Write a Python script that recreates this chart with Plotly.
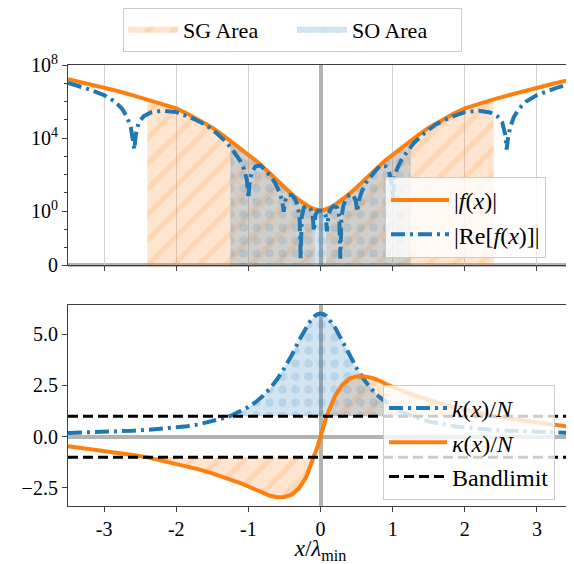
import numpy as np
import plotly.graph_objects as go

# ---------------- data ----------------
X = [-3.5, -3.25, -3.0, -2.8, -2.6, -2.4, -2.2, -2.0, -1.85, -1.7, -1.5, -1.35, -1.25, -1.1, -1.0,
     -0.9, -0.8, -0.7, -0.6, -0.5, -0.4, -0.3, -0.2, -0.15, -0.08, -0.04, 0.0,
     0.04, 0.08, 0.15, 0.2, 0.3, 0.4, 0.5, 0.6, 0.7, 0.8, 0.9, 1.0, 1.1, 1.25, 1.35,
     1.5, 1.7, 1.85, 2.0, 2.2, 2.4, 2.6, 2.8, 3.0, 3.25, 3.5]

k_over_N = [0.18, 0.2, 0.23, 0.26, 0.29, 0.33, 0.38, 0.45, 0.51, 0.59, 0.74, 0.9, 1.01, 1.24, 1.44,
            1.68, 1.98, 2.35, 2.8, 3.35, 3.96, 4.68, 5.33, 5.6, 5.88, 5.97, 6.0,
            5.97, 5.88, 5.6, 5.33, 4.68, 3.96, 3.35, 2.8, 2.35, 1.98, 1.68, 1.44, 1.24, 1.01, 0.9,
            0.74, 0.59, 0.51, 0.45, 0.38, 0.33, 0.29, 0.26, 0.23, 0.2, 0.18]

kappa_over_N = [-0.47, -0.58, -0.68, -0.78, -0.89, -1.01, -1.16, -1.32, -1.45, -1.58, -1.79, -1.96, -2.08, -2.28, -2.43,
                -2.58, -2.76, -2.88, -2.95, -2.94, -2.83, -2.52, -1.98, -1.55, -0.95, -0.48, 0.0,
                0.48, 0.95, 1.55, 1.98, 2.52, 2.83, 2.94, 2.95, 2.88, 2.76, 2.58, 2.43, 2.28, 2.08, 1.96,
                1.79, 1.58, 1.45, 1.32, 1.16, 1.01, 0.89, 0.78, 0.68, 0.58, 0.47]

# log10 |f(x)|
log10_abs_f = [7.22, 7.0, 6.77, 6.56, 6.34, 6.12, 5.9, 5.63, 5.34, 5.02, 4.57, 4.15, 3.85, 3.4, 3.08,
               2.78, 2.43, 2.05, 1.68, 1.3, 0.94, 0.62, 0.35, 0.22, 0.1, 0.05, 0.03,
               0.05, 0.1, 0.22, 0.35, 0.62, 0.94, 1.3, 1.68, 2.05, 2.43, 2.78, 3.08, 3.4, 3.85, 4.15,
               4.57, 5.02, 5.34, 5.63, 5.9, 6.12, 6.34, 6.56, 6.77, 7.0, 7.22]

# |Re f(x)| sampled separately (dips at the zeros)
X_re = [-3.5, -3.25, -3.0, -2.85, -2.75, -2.68, -2.63, -2.6, -2.58, -2.56, -2.52, -2.45, -2.35,
        -2.2, -2.0, -1.8, -1.6, -1.45, -1.3, -1.2, -1.12, -1.06, -1.02, -1.0, -0.98, -0.95,
        -0.9, -0.83, -0.76, -0.7, -0.63, -0.57, -0.53, -0.51, -0.49, -0.45, -0.4, -0.36, -0.32,
        -0.29, -0.275, -0.26, -0.23, -0.18, -0.14, -0.11, -0.09, -0.07, -0.04, 0.0,
        0.04, 0.07, 0.09, 0.11, 0.14, 0.18, 0.23, 0.26, 0.275, 0.29, 0.32, 0.36, 0.4, 0.45,
        0.49, 0.51, 0.53, 0.57, 0.63, 0.7, 0.76, 0.83, 0.9, 0.95, 0.98, 1.0, 1.02, 1.06, 1.12,
        1.2, 1.3, 1.45, 1.6, 1.8, 2.0, 2.2, 2.35, 2.45, 2.52, 2.56, 2.58, 2.6, 2.63, 2.68,
        2.75, 2.85, 3.0, 3.25, 3.5]
log10_abs_re_f = [7.02, 6.72, 6.35, 6.0, 5.6, 5.15, 4.6, 4.0, 3.37, 4.2, 4.85, 5.2, 5.4,
                  5.5, 5.42, 5.13, 4.75, 4.3, 3.75, 3.25, 2.8, 2.3, 1.7, 0.69, 1.7, 2.15,
                  2.45, 2.5, 2.2, 1.95, 1.55, 1.05, 0.55, -0.04, 0.55, 0.9, 0.88, 0.7, 0.35,
                  -0.3, -2.6, -0.3, 0.2, 0.28, 0.12, -0.2, -1.1, -0.2, 0.0, 0.03,
                  0.0, -0.2, -1.1, -0.2, 0.12, 0.28, 0.2, -0.3, -2.6, -0.3, 0.35, 0.7, 0.88, 0.9,
                  0.55, -0.04, 0.55, 1.05, 1.55, 1.95, 2.2, 2.5, 2.45, 2.15, 1.7, 0.69, 1.7, 2.3, 2.8,
                  3.25, 3.75, 4.3, 4.75, 5.13, 5.42, 5.5, 5.4, 5.2, 4.85, 4.2, 3.37, 4.0, 4.6, 5.15,
                  5.6, 6.0, 6.35, 6.72, 7.02]

BANDLIMIT = 1.0
X_LIMITS = [-3.5, 3.5]
SG_BOUNDS = (0.08, 2.4)    # |kappa/N| > bandlimit
SO_BOUND = 1.25            # k/N > bandlimit

x_ticks = [-3, -2, -1, 0, 1, 2, 3]
x_ticktext = ["-3", "-2", "-1", "0", "1", "2", "3"]
y2_ticks = [-2.5, 0.0, 2.5, 5.0]
y2_ticktext = ["\u22122.5", "0.0", "2.5", "5.0"]

# ---------------- derived arrays ----------------
Xa = np.array(X)
k = np.array(k_over_N)
kap = np.array(kappa_over_N)
absf = 10 ** np.array(log10_abs_f)
absre = 10 ** np.array(log10_abs_re_f)

ORANGE = "#ff7f0e"
BLUE = "#1f77b4"
FONT = "Liberation Serif"
LOG_BOTTOM = -2.95
FLOOR = 1e-5

sg_pat = dict(shape="/", bgcolor="rgba(255,127,14,0.2)", fgcolor="rgba(255,127,14,0.3)",
              size=18, solidity=0.3)
so_pat = dict(shape=".", bgcolor="rgba(31,119,180,0.2)", fgcolor="rgba(31,119,180,0.3)",
              size=13, solidity=0.35)

fig = go.Figure()

# ---- top panel fills ----
m_left = (Xa >= -SG_BOUNDS[1]) & (Xa <= -SG_BOUNDS[0])
m_right = (Xa >= SG_BOUNDS[0]) & (Xa <= SG_BOUNDS[1])
m_so = np.abs(Xa) <= SO_BOUND

for i, m in enumerate([m_left, m_right]):
    xs = list(Xa[m]) + list(Xa[m][::-1])
    ys = list(absf[m]) + [FLOOR] * int(m.sum())
    fig.add_trace(go.Scatter(x=xs, y=ys, fill="toself", mode="none", fillcolor="rgba(255,127,14,0.2)",
                             fillpattern=sg_pat, name="SG Area", legendgroup="sg",
                             showlegend=(i == 0), legend="legend", xaxis="x", yaxis="y",
                             hoverinfo="skip"))
xs = list(Xa[m_so]) + list(Xa[m_so][::-1])
ys = list(absf[m_so]) + [FLOOR] * int(m_so.sum())
fig.add_trace(go.Scatter(x=xs, y=ys, fill="toself", mode="none", fillcolor="rgba(31,119,180,0.2)",
                         fillpattern=so_pat, name="SO Area", legendgroup="so",
                         showlegend=True, legend="legend", xaxis="x", yaxis="y", hoverinfo="skip"))

# ---- top panel lines ----
fig.add_trace(go.Scatter(x=X, y=absf, mode="lines", line=dict(color=ORANGE, width=4),
                         name="|<i>f</i>(<i>x</i>)|", legend="legend2", xaxis="x", yaxis="y"))
fig.add_trace(go.Scatter(x=X_re, y=absre, mode="lines",
                         line=dict(color=BLUE, width=4, dash="14px,5px,3px,5px"),
                         name="|Re[<i>f</i>(<i>x</i>)]|", legend="legend2", xaxis="x", yaxis="y"))

# ---- bottom panel fills ----
for i, (m, lvl) in enumerate([(m_left, -BANDLIMIT), (m_right, BANDLIMIT)]):
    xs = list(Xa[m]) + list(Xa[m][::-1])
    ys = list(kap[m]) + [lvl] * int(m.sum())
    fig.add_trace(go.Scatter(x=xs, y=ys, fill="toself", mode="none", fillcolor="rgba(255,127,14,0.2)",
                             fillpattern=sg_pat, showlegend=False, xaxis="x2", yaxis="y2",
                             hoverinfo="skip"))
xs = list(Xa[m_so]) + list(Xa[m_so][::-1])
ys = list(k[m_so]) + [BANDLIMIT] * int(m_so.sum())
fig.add_trace(go.Scatter(x=xs, y=ys, fill="toself", mode="none", fillcolor="rgba(31,119,180,0.2)",
                         fillpattern=so_pat, showlegend=False, xaxis="x2", yaxis="y2",
                         hoverinfo="skip"))

# ---- bottom panel lines ----
fig.add_trace(go.Scatter(x=X, y=k, mode="lines",
                         line=dict(color=BLUE, width=4, dash="14px,5px,3px,5px"),
                         name="<i>k</i>(<i>x</i>)/<i>N</i>", legend="legend3", xaxis="x2", yaxis="y2"))
fig.add_trace(go.Scatter(x=X, y=kap, mode="lines", line=dict(color=ORANGE, width=4),
                         name="<i>κ</i>(<i>x</i>)/<i>N</i>", legend="legend3", xaxis="x2", yaxis="y2"))
fig.add_trace(go.Scatter(x=X_LIMITS + [None] + X_LIMITS,
                         y=[BANDLIMIT, BANDLIMIT, None, -BANDLIMIT, -BANDLIMIT], mode="lines",
                         line=dict(color="black", width=3, dash="10px,5px"),
                         name="Bandlimit", legend="legend3", xaxis="x2", yaxis="y2"))

# ---------------- layout ----------------
# the page body adds an 8px offset; work in figure pixels = window pixels - 8
OFF = 8
W, H = 574 - OFF, 564 - OFF
ml, mr, mt, mb = 68 - OFF, 1, 65 - OFF, H - (506 - OFF)
ph = H - mt - mb
pw = W - ml - mr


def py(win_y):
    return (H - mb - (win_y - OFF)) / ph


def px(win_x):
    return (win_x - OFF - ml) / pw


top_dom = [py(265), 1.0]
bot_dom = [0.0, py(305)]

axis_common = dict(showline=True, linecolor="#404040", linewidth=1.2, mirror=True,
                   ticks="outside", ticklen=5, tickcolor="#404040", automargin=False,
                   tickfont=dict(family=FONT, size=20, color="black"))

legend_box = dict(bgcolor="rgba(255,255,255,0.8)", bordercolor="#cccccc", borderwidth=1,
                  font=dict(family=FONT, size=24, color="black"))

fig.update_layout(
    width=W, height=H, autosize=False,
    margin=dict(l=ml, r=mr, t=mt, b=mb, autoexpand=False),
    paper_bgcolor="white", plot_bgcolor="white",
    font=dict(family=FONT, color="black"),
    xaxis=dict(domain=[0, 1], anchor="y", range=X_LIMITS, tickvals=x_ticks, showticklabels=False,
               showgrid=True, gridcolor="#d3d3d3", gridwidth=1,
               zeroline=True, zerolinecolor="rgba(128,128,128,0.6)", zerolinewidth=4,
               **axis_common),
    yaxis=dict(domain=top_dom, anchor="x", type="log", range=[LOG_BOTTOM, 8],
               tickvals=[10 ** LOG_BOTTOM, 1, 1e4, 1e8],
               ticktext=["0", "10<sup>0</sup>", "10<sup>4</sup>", "10<sup>8</sup>"],
               showgrid=False, zeroline=False,
               minor=dict(tickvals=[1e-2, 1e-1, 10, 100, 1e3, 1e5, 1e6, 1e7], ticklen=3,
                          tickcolor="#404040", ticks="outside", showgrid=False),
               **axis_common),
    xaxis2=dict(domain=[0, 1], anchor="y2", range=X_LIMITS, tickvals=x_ticks, ticktext=x_ticktext,
                showgrid=False, zeroline=True, zerolinecolor="rgba(128,128,128,0.6)", zerolinewidth=4,
                title=dict(text="<i>x</i>/<i>λ</i><sub>min</sub>",
                           font=dict(family=FONT, size=23, color="black"), standoff=8),
                **axis_common),
    yaxis2=dict(domain=bot_dom, anchor="x2", range=[-3.38, 6.42], tickvals=y2_ticks,
                ticktext=y2_ticktext, showgrid=False,
                zeroline=True, zerolinecolor="rgba(128,128,128,0.6)", zerolinewidth=4,
                **axis_common),
    legend=dict(orientation="h", x=px(123), xanchor="left",
                y=py(8), yanchor="top", itemwidth=50, entrywidth=104, entrywidthmode="pixels",
                **{**legend_box, "font": dict(family=FONT, size=22, color="black")}),
    legend2=dict(x=px(385), xanchor="left", y=py(177), yanchor="top", itemwidth=58, **legend_box),
    legend3=dict(x=px(383), xanchor="left", y=py(385), yanchor="top", itemwidth=58, **legend_box),
    shapes=[dict(type="line", xref="x domain", yref="y domain", x0=0, x1=1, y0=0, y1=0,
                 line=dict(color="rgba(128,128,128,0.6)", width=4), layer="below")],
)

fig.write_html("out.html")
